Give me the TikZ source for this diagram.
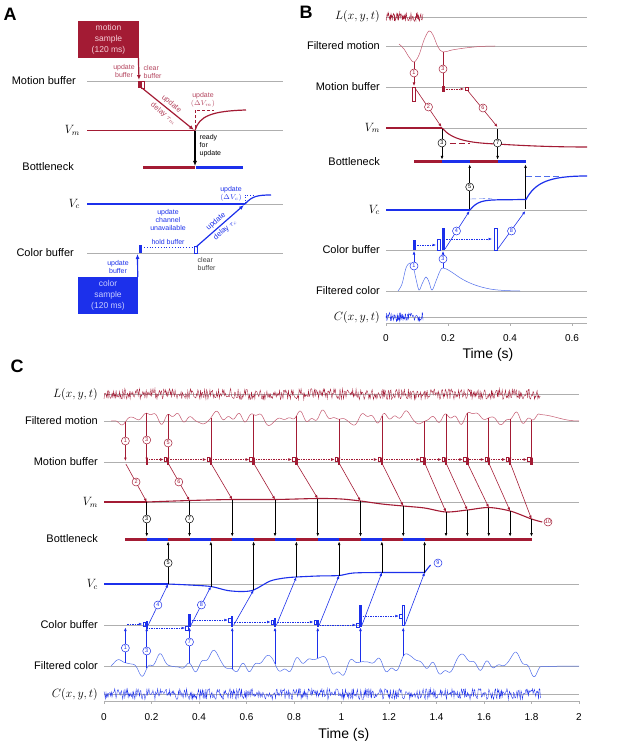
\documentclass[tikz,border=0pt]{standalone}
\usepackage{fontspec}
\setmainfont{Liberation Sans}
\usetikzlibrary{arrows.meta,calc}
\definecolor{mred}{RGB}{163,27,52}
\definecolor{mredl}{RGB}{196,90,112}
\definecolor{mredt}{RGB}{180,70,95}
\definecolor{mblue}{RGB}{28,48,235}
\definecolor{mbluel}{RGB}{80,110,235}
\definecolor{gline}{RGB}{175,175,175}
\definecolor{mboxt}{RGB}{245,205,215}
\definecolor{cboxt}{RGB}{200,205,255}
\begin{document}
\begin{tikzpicture}[x=1pt,y=-1pt,
  declare function={fm(\x)=418-3*sin(4000*\x+20)-2.5*sin(2300*\x+70)-1.8*sin(7100*\x+5)-2*sin(1100*\x+200)-1.2*sin(8300*\x+40);
                    fc(\x)=664-6*sin(1700*\x+30)-4*sin(3100*\x+100)-2.5*sin(6300*\x+10)-2*sin(900*\x+60)-1.2*sin(8100*\x+15);},
  gl/.style={draw=gline, line width=0.8pt},
  lab/.style={anchor=east, font=\fontsize{11}{13}\selectfont, inner sep=0pt},
  mlab/.style={anchor=east, font=\fontsize{12}{13}\selectfont, inner sep=0pt},
  ann/.style={font=\fontsize{7}{8}\selectfont, align=center, inner sep=0.5pt},
  circ/.style={circle, draw, fill=white, inner sep=0pt, minimum size=8pt, font=\fontsize{5.5}{6}\selectfont, line width=0.5pt},
  arr/.style={-{Latex[length=3.5pt,width=2.8pt]}},
  bigarr/.style={-{Latex[length=5pt,width=4pt]}},
  dsh/.style={dash pattern=on 1.5pt off 1pt},
  trR/.style={draw=mredl, line width=0.5pt},
  trB/.style={draw=mbluel, line width=0.5pt},
  noiseR/.style={draw=mred, line width=0.35pt},
  noiseB/.style={draw=mblue, line width=0.35pt},
  pletter/.style={font=\bfseries\fontsize{18}{18}\selectfont, inner sep=0pt}
]
\useasboundingbox (0,0) rectangle (617,743);
\pgfmathsetseed{3}

%%%%%%%%%%%%%%%% PANEL A %%%%%%%%%%%%%%%%
\node[pletter] (lA) at (10,14) {A};
\foreach \yy in {81,130.5,204,253} {\draw[gl] (87,\yy) -- (283,\yy);}
\node[lab] (lmbA) at (76,81) {Motion buffer};
\node[mlab] (lvmA) at (80,130.5) {$V_m$};
\node[lab] (lbnA) at (74,167) {Bottleneck};
\node[mlab] (lvcA) at (80,204) {$V_c$};
\node[lab] (lcbA) at (74,253) {Color buffer};

\node[fill=mred, text=mboxt, minimum width=61pt, minimum height=37pt, inner sep=0pt, align=center,
      font=\fontsize{8.5}{11}\selectfont] (msamp) at (108.5,39.5) {motion\\sample\\(120 ms)};
\coordinate (mbA) at (139,80);
\draw[mred, line width=1.2pt, bigarr] ([xshift=-0.8pt]msamp.south east) -- (mbA);
\fill[mred] (137.5,81) rectangle (141,88);
\draw[mred, line width=0.5pt] (141,81) rectangle (144.5,88);
\node[ann, text=mredt] (ubA) at (124,71) {update\\buffer};
\node[ann, text=mredt, align=left, anchor=west] (cbA) at (143,72) {clear\\buffer};
\coordinate (mdA) at (142,88);
\coordinate (vmA) at (194,130);
\draw[mred, line width=1.2pt, bigarr] (mdA) -- (vmA);
\node[ann, text=mredt, rotate=-39, font=\fontsize{7.5}{8}\selectfont] (dlA1) at (171.5,104) {update};
\node[ann, text=mredt, rotate=-39, font=\fontsize{7.5}{8}\selectfont] (dlA2) at (163.5,114) {delay $\tau_m$};
\draw[mred, line width=1.3pt] (87,130.5) -- (195,130.5);
\draw[mred, line width=1.2pt] (195,130.5) .. controls (199,116) and (212,111) .. (246,110);
\draw[mred, line width=0.6pt, dash pattern=on 3pt off 2pt] (195,128) -- (195,110) -- (214,110);
\node[ann, text=mredt] (uvmA) at (203,100) {update\\$(\Delta V_m)$};
\coordinate (rdyA) at (195,131);
\coordinate (bnA) at (195,166);
\draw[black, line width=1.2pt, bigarr] (rdyA) -- (bnA);
\node[ann, anchor=north west, align=left] (rdA) at (199,134) {ready\\for\\update};
\draw[mred, line width=3pt] (143,168) -- (194.5,168);
\draw[mblue, line width=3pt] (195.5,168) -- (243,168);

\draw[mblue, line width=1.3pt] (87,204) -- (245,204);
\draw[mblue, line width=1.2pt] (245,204) .. controls (252,196) and (258,195) .. (271,195);
\draw[mblue, dotted, line width=0.6pt] (245,203) -- (245,195) -- (253,195);
\node[ann, text=mblue] (uvcA) at (231,194) {update\\$(\Delta V_c)$};
\node[ann, text=mblue] (ucuA) at (168,220) {update\\channel\\unavailable};
\node[ann, text=mblue] (hbA) at (168,242) {hold buffer};
\draw[mblue, dotted, line width=0.8pt] (144,247.5) -- (193,247.5);
\fill[mblue] (138.5,245) rectangle (142,253);
\draw[mblue, line width=0.5pt] (194,246) rectangle (197.5,253);
\coordinate (cdA) at (196,247);
\coordinate (vcA) at (244,205);
\draw[mblue, line width=1.2pt, bigarr] (cdA) -- (vcA);
\node[ann, text=mblue, rotate=41, font=\fontsize{7.5}{8}\selectfont] (dlcA1) at (216,221.5) {update};
\node[ann, text=mblue, rotate=41, font=\fontsize{7.5}{8}\selectfont] (dlcA2) at (225,230) {delay $\tau_c$};
\node[ann, anchor=north west, align=left, text=black!75] (clA) at (197,257) {clear\\buffer};
\node[fill=mblue, text=cboxt, minimum width=60pt, minimum height=37pt, inner sep=0pt, align=center,
      font=\fontsize{8.5}{11}\selectfont] (csamp) at (108,295.5) {color\\sample\\(120 ms)};
\coordinate (cbA) at (137.5,254);
\draw[mblue, line width=1.2pt, bigarr] ([xshift=-0.5pt]csamp.north east) -- (cbA);
\node[ann, text=mblue] (ubcA) at (118,267) {update\\buffer};

%%%%%%%%%%%%%%%% PANEL B %%%%%%%%%%%%%%%%
\node[pletter] (lB) at (306,12) {B};
\foreach \yy in {17,46,87,128,210,250,291,317} {\draw[gl] (386,\yy) -- (587,\yy);}
\node[mlab] at (380,17) {$L(x,y,t)$};
\node[lab] at (380,46) {Filtered motion};
\node[lab] at (380,87) {Motion buffer};
\node[mlab] at (380,128) {$V_m$};
\node[lab] at (380,162) {Bottleneck};
\node[mlab] at (380,210) {$V_c$};
\node[lab] at (380,250) {Color buffer};
\node[lab] at (380,291) {Filtered color};
\node[mlab] at (380,317) {$C(x,y,t)$};

\draw[noiseR] plot[domain=386:423, samples=90] (\x,{17+4.5*rand});
\draw[noiseB] plot[domain=386:423, samples=90] (\x,{317+4.5*rand});
\draw[trR] plot[smooth, tension=0.6] coordinates {(399,44) (404,49) (409,57) (414,62) (419,55) (424,40) (429,31) (433,35) (438,47) (443,52) (452,50) (465,48) (480,46.5) (495,46)};
% motion buffer
\draw[mred, line width=0.6pt, arr] (414,62) -- (414,86);
\node[circ, draw=mred, text=mred] at (414,73) {1};
\draw[mred, line width=0.4pt] (412.5,87) rectangle (415.5,101);
\draw[mred, line width=0.6pt, arr] (415,88) -- (441.5,127);
\node[circ, draw=mred, text=mred] at (428.5,107) {2};
\draw[mred, line width=0.6pt] (443,52) -- (443,87);
\node[circ, draw=mred, text=mred] at (443,69) {3};
\fill[mred] (441.5,86) rectangle (444.5,92);
\draw[mred, line width=0.6pt, dsh, arr] (446,89) -- (464,89);
\draw[mred, line width=0.4pt] (465,87.5) rectangle (468,90.5);
\draw[mred, line width=0.6pt, arr] (468,91) -- (497.5,127);
\node[circ, draw=mred, text=mred] at (483,108) {6};
% Vm
\draw[mred, line width=1.3pt] (386,128) -- (442,128);
\draw[mred, line width=1.1pt] (442,128) .. controls (452,140) and (470,143) .. (497,144) .. controls (520,145.5) and (550,147) .. (587,147);
\draw[mred, line width=0.4pt, dash pattern=on 6pt off 3pt] (450,143) -- (470,143);
\draw[black, line width=0.6pt, arr] (442,129) -- (442,159.5);
\node[circ] at (442,143) {3};
\draw[black, line width=0.6pt, arr] (497.6,129) -- (497.6,159.5);
\node[circ] at (497.6,143) {7};
% bottleneck
\draw[mred, line width=3pt] (414,162) -- (442,162);
\draw[mblue, line width=3pt] (442,162) -- (469.7,162);
\draw[mred, line width=3pt] (469.7,162) -- (497.6,162);
\draw[mblue, line width=3pt] (497.6,162) -- (525.5,162);
\draw[black, line width=0.6pt, arr] (469.7,209) -- (469.7,164.5);
\node[circ] at (469.7,187) {5};
\draw[black, line width=0.6pt, arr] (525.5,209) -- (525.5,164.5);
% Vc
\draw[mblue, line width=1.3pt] (386,210) -- (470,210);
\draw[mblue, line width=1.2pt] (470,210) .. controls (477,201) and (484,200) .. (500,199.8) -- (526,199.5) .. controls (535,183) and (548,176) .. (587,176);
\draw[mbluel, line width=0.4pt, dash pattern=on 6pt off 3pt] (470,199) -- (492,198.5);
\draw[mbluel, line width=0.4pt, dash pattern=on 6pt off 3pt] (526,176) -- (562,176);
% color buffer
\fill[mblue] (412.5,240) rectangle (415.5,250);
\draw[mblue, line width=0.6pt, dsh, arr] (417,245) -- (436,245);
\draw[mblue, line width=0.4pt] (437.5,239) rectangle (440.5,250);
\fill[mblue] (441.5,228) rectangle (444.5,250);
\draw[mblue, line width=0.6pt, dsh, arr] (446,239) -- (492,239);
\draw[mblue, line width=0.4pt] (494,228) rectangle (497,250);
\draw[mblue, line width=0.6pt, arr] (445,249) -- (469.5,211);
\node[circ, draw=mblue, text=mblue] at (456.5,231) {4};
\draw[mblue, line width=0.6pt, arr] (497,250) -- (525.3,211);
\node[circ, draw=mblue, text=mblue] at (511.5,231) {8};
\draw[trB] plot[smooth, tension=0.6] coordinates {(398,291) (402,284) (406,268) (410,263) (413,266) (416,279) (419,290) (422,284) (426,277) (429,282) (432,290) (436,281) (440,271) (443,268) (450,271) (462,279) (475,285) (490,289) (505,290.5) (520,291)};
\draw[mblue, line width=0.6pt, arr] (414,266) -- (414,251);
\node[circ, draw=mblue, text=mblue] at (414,266) {1};
\draw[mblue, line width=0.6pt, arr] (443,268) -- (443,251);
\node[circ, draw=mblue, text=mblue] at (443,259) {3};
% axis B
\draw[gl] (386,323) -- (587,323);
\foreach \i in {0,0.2,0.4,0.6} {
  \draw[gline, line width=0.8pt] ({386+310*\i},323) -- ({386+310*\i},326);
  \node[font=\fontsize{10}{10}\selectfont, inner sep=0pt] at ({386+310*\i},338) {\i};
}
\node[font=\fontsize{14}{14}\selectfont, inner sep=0pt] (timeB) at (488,355) {Time (s)};

%%%%%%%%%%%%%%%% PANEL C %%%%%%%%%%%%%%%%
\node[pletter] (lC) at (17,366) {C};
\foreach \yy in {394,421,462,502,584,625,666,694} {\draw[gl] (104,\yy) -- (579,\yy);}
\node[mlab] at (98,394) {$L(x,y,t)$};
\node[lab] at (98,421) {Filtered motion};
\node[lab] at (98,462) {Motion buffer};
\node[mlab] at (98,502) {$V_m$};
\node[lab] at (98,539) {Bottleneck};
\node[mlab] at (98,584) {$V_c$};
\node[lab] at (98,625) {Color buffer};
\node[lab] at (98,666) {Filtered color};
\node[mlab] at (98,694) {$C(x,y,t)$};

\begin{scope}[xshift=104pt, x=237.5pt]
  \draw[noiseR] plot[domain=0:1.84, samples=650] (\x,{394+5.5*rand});
  \draw[noiseB] plot[domain=0:1.84, samples=650] (\x,{694+5.5*rand});
  \draw[trR] (0.03,421) -- plot[domain=0.05:1.84, samples=320] (\x,{fm(\x)}) .. controls (1.9,{fm(1.84)}) and (1.93,421) .. (2,421);
  \draw[trB] (0.03,666) -- plot[domain=0.05:1.84, samples=320] (\x,{fc(\x)}) .. controls (1.9,{fc(1.84)}) and (1.93,666) .. (2,666);

  % motion samples
  \foreach \ta in {0.09,0.18,0.27,0.45,0.63,0.81,0.99,1.17,1.35,1.44,1.53,1.62,1.71,1.80} {
    \draw[mred, line width=0.6pt, arr] (\ta,{fm(\ta)}) -- (\ta,461);
  }
  \foreach \ta in {0.18,0.27,0.45,0.63,0.81,0.99,1.17,1.35,1.44,1.53,1.62,1.71,1.80} {
    \fill[mred] ([xshift=-1.2pt]\ta,458) rectangle ([xshift=1.2pt]\ta,465);
  }
  \foreach \ta/\tb in {0.18/0.27,0.27/0.45,0.45/0.63,0.63/0.81,0.81/0.99,0.99/1.17,1.17/1.35,1.35/1.44,1.44/1.53,1.53/1.62,1.62/1.71,1.71/1.80} {
    \draw[mred, line width=0.5pt, dsh, arr] ([xshift=2pt]\ta,459.5) -- ([xshift=-4.5pt]\tb,459.5);
    \draw[mred, line width=0.4pt] ([xshift=-4pt]\tb,457.5) rectangle ([xshift=-1.5pt]\tb,461.5);
  }
  \node[circ, draw=mred, text=mred] at (0.09,441) {1};
  \node[circ, draw=mred, text=mred] at (0.18,440) {3};
  \node[circ, draw=mred, text=mred] at (0.27,443) {5};

  % Vm
  \draw[mred, line width=1.3pt] (0,502) -- (0.18,502);
  \draw[mred, line width=1.1pt] plot[smooth, tension=0.5] coordinates {(0.18,502) (0.36,500.5) (0.54,499.5) (0.72,499.5) (0.90,498.5) (1.0,499) (1.08,501) (1.17,504) (1.26,506) (1.35,508) (1.44,512) (1.53,510) (1.62,507.5) (1.71,511) (1.80,519) (1.845,522)};
  \foreach \ta/\tb/\yv in {0.09/0.18/502, 0.27/0.36/500.5, 0.45/0.54/499.5, 0.63/0.72/499.5, 0.81/0.90/498.5, 0.99/1.08/501, 1.17/1.26/506, 1.35/1.44/512, 1.44/1.53/510, 1.53/1.62/507.5, 1.62/1.71/511, 1.71/1.80/519} {
    \draw[mred, line width=0.6pt, arr] ([xshift=0.5pt]\ta,464) -- (\tb,\yv);
    \draw[black, line width=0.6pt, arr] (\tb,\yv) -- (\tb,536.5);
  }
  \node[circ, draw=mred, text=mred] at (0.135,482) {2};
  \node[circ, draw=mred, text=mred] at (0.315,482) {6};
  \node[circ] at (0.18,519) {3};
  \node[circ] at (0.36,519) {7};

  % bottleneck
  \draw[mred, line width=3pt] (0.09,539) -- (1.80,539);
  \foreach \ta/\tb in {0.18/0.27,0.36/0.45,0.54/0.63,0.72/0.81,0.90/0.99,1.08/1.17,1.26/1.35} {
    \draw[mblue, line width=3pt] (\ta,539) -- (\tb,539);
  }

  % Vc
  \draw[mblue, line width=1.3pt] (0,584) -- (0.27,584);
  \draw[mblue, line width=1.1pt] plot[smooth, tension=0.5] coordinates {(0.27,584) (0.36,585) (0.45,586.5) (0.52,590.5) (0.58,591.5) (0.63,590) (0.70,581) (0.76,578) (0.81,577) (0.90,576) (0.99,575.5) (1.05,573) (1.17,572.5) (1.35,572.5)};
  \draw[mblue, line width=1.1pt] (1.35,572.5) .. controls (1.36,570) and (1.365,567) .. (1.375,565);
  \foreach \ta/\yv in {0.27/584, 0.45/586.5, 0.63/590, 0.81/577, 0.99/575.5, 1.17/572.5, 1.35/572.5} {
    \draw[black, line width=0.6pt, arr] (\ta,\yv) -- (\ta,541.5);
  }
  \node[circ] at (0.27,563) {5};

  % color samples
  \foreach \ta in {0.09,0.18,0.36,0.54,0.72,0.90,1.08,1.26} {
    \draw[mblue, line width=0.6pt, arr] (\ta,{fc(\ta)}) -- (\ta,627.5);
  }
  \foreach \ta/\ya/\yb in {0.18/621/629, 0.36/614/627, 0.54/616/627, 0.72/618/627, 0.90/620/627, 1.08/605/627} {
    \fill[mblue] ([xshift=-1.2pt]\ta,\ya) rectangle ([xshift=1.2pt]\ta,\yb);
  }
  \draw[mblue, line width=0.4pt] ([xshift=-1.2pt]1.26,605) rectangle ([xshift=1.2pt]1.26,625);
  \foreach \ta/\tb/\yv in {0.09/0.18/624, 0.18/0.36/628, 0.36/0.54/620, 0.54/0.72/622, 0.72/0.90/622, 0.90/1.08/625, 1.08/1.26/616} {
    \draw[mblue, line width=0.5pt, dsh, arr] ([xshift=2pt]\ta,\yv) -- ([xshift=-4.5pt]\tb,\yv);
    \draw[mblue, line width=0.4pt] ([xshift=-4pt]\tb,{\yv-2}) rectangle ([xshift=-1.5pt]\tb,{\yv+2});
  }
  \foreach \ta/\tb/\yv in {0.18/0.27/584, 0.36/0.45/586.5, 0.54/0.63/590, 0.72/0.81/577, 0.90/0.99/575.5, 1.08/1.17/572.5, 1.26/1.35/572.5} {
    \draw[mblue, line width=0.6pt, arr] ([xshift=1.5pt]\ta,625) -- (\tb,\yv);
  }
  \node[circ, draw=mblue, text=mblue] at (0.09,648) {1};
  \node[circ, draw=mblue, text=mblue] at (0.18,651) {3};
  \node[circ, draw=mblue, text=mblue] at (0.36,642) {7};
  \node[circ, draw=mblue, text=mblue] at (0.227,605) {4};
  \node[circ, draw=mblue, text=mblue] at (0.41,605) {8};

  % axis C
  \draw[gl] (0,701) -- (2,701);
  \foreach \i in {0,0.2,0.4,0.6,0.8,1,1.2,1.4,1.6,1.8,2} {
    \draw[gline, line width=0.8pt] (\i,701) -- (\i,704);
    \node[font=\fontsize{10}{10}\selectfont, inner sep=0pt] at (\i,717) {\i};
  }
  \node[font=\fontsize{14}{14}\selectfont, inner sep=0pt] (timeC) at (1.01,735) {Time (s)};
\end{scope}
\node[circ, draw=mblue, text=mblue] (c9) at (438,563) {9};
\node[circ, draw=mred, text=mred] (c10) at (548,522) {10};
\end{tikzpicture}
\end{document}
